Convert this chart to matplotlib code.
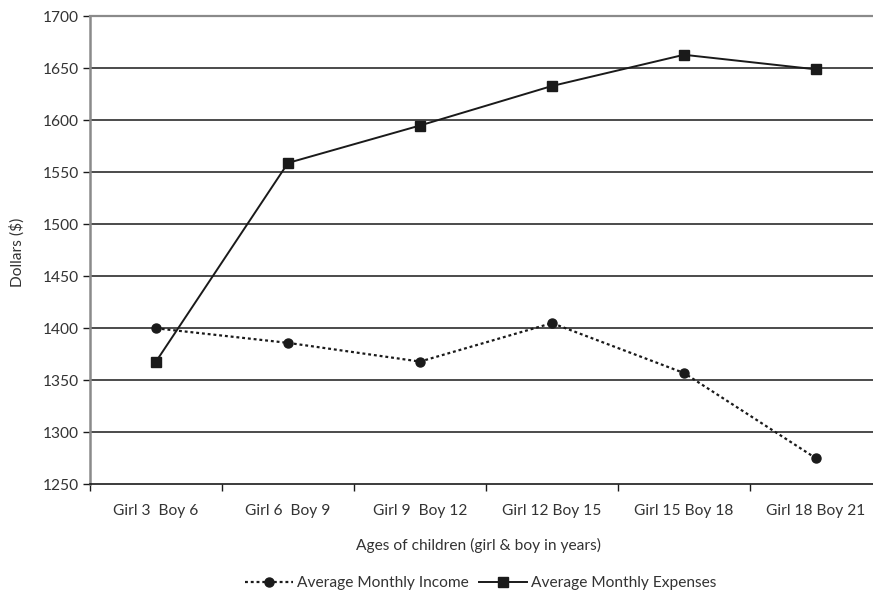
import matplotlib
matplotlib.use("Agg")
import matplotlib.pyplot as plt
import numpy as np

# values
categories = ["Girl 3  Boy 6", "Girl 6  Boy 9", "Girl 9  Boy 12",
              "Girl 12 Boy 15", "Girl 15 Boy 18", "Girl 18 Boy 21"]
income = [1400, 1386, 1368, 1405, 1357, 1275]
expenses = [1368, 1559, 1595, 1633, 1663, 1649]
y_ticks = [1250, 1300, 1350, 1400, 1450, 1500, 1550, 1600, 1650, 1700]

plt.rcParams['font.family'] = ['Lato', 'DejaVu Sans']
txt_color = "#333333"
fs = 11.2

fig = plt.figure(figsize=(8.73, 5.98), dpi=100)
ax = fig.add_axes([90 / 873, 113.7 / 598, 792 / 873, 468 / 598])

x = np.arange(len(categories))

# gridlines
for v in y_ticks[1:-1]:
    ax.axhline(v, color="#1a1a1a", lw=1.1, zorder=1)

ax.plot(x, income, color="#1a1a1a", lw=1.6, dashes=(1.3, 1.3),
        marker="o", markersize=6.5, label="Average Monthly Income", zorder=3)
ax.plot(x, expenses, color="#1a1a1a", lw=1.4, marker="s", markersize=6.5,
        label="Average Monthly Expenses", zorder=3)

ax.set_xlim(-0.5, len(categories) - 0.5)
ax.set_ylim(1250, 1700)
ax.set_yticks(y_ticks)
ax.set_xticks(x)
ax.set_xticklabels(categories)
ax.set_xticks(np.arange(len(categories) + 1) - 0.5, minor=True)
ax.tick_params(axis="x", which="major", length=0, pad=14, labelsize=fs, labelcolor=txt_color)
ax.tick_params(axis="x", which="minor", length=5, width=1, color="#1a1a1a", direction="out")
ax.tick_params(axis="y", length=5, width=1, color="#1a1a1a", labelsize=fs, labelcolor=txt_color, pad=3)

ax.spines["right"].set_visible(False)
ax.spines["top"].set_color("#8a8a8a")
ax.spines["top"].set_linewidth(1.6)
ax.spines["left"].set_color("#8a8a8a")
ax.spines["left"].set_linewidth(1.8)
ax.spines["bottom"].set_color("#1a1a1a")
ax.spines["bottom"].set_linewidth(1.2)

fig.text(17 / 873, 1 - 252 / 598, "Dollars ($)", rotation=90, ha="center", va="center",
         fontsize=fs, color=txt_color)
fig.text(478 / 873, 1 - 545 / 598, "Ages of children (girl & boy in years)",
         ha="center", va="center", fontsize=fs, color=txt_color)

leg = fig.legend(loc="center", bbox_to_anchor=(481 / 873, 1 - 583 / 598), ncol=2,
                 frameon=False, fontsize=fs, handlelength=3.1, handletextpad=0.25,
                 columnspacing=0.65)
for t in leg.get_texts():
    t.set_color(txt_color)

fig.savefig("out.png", dpi=100)
